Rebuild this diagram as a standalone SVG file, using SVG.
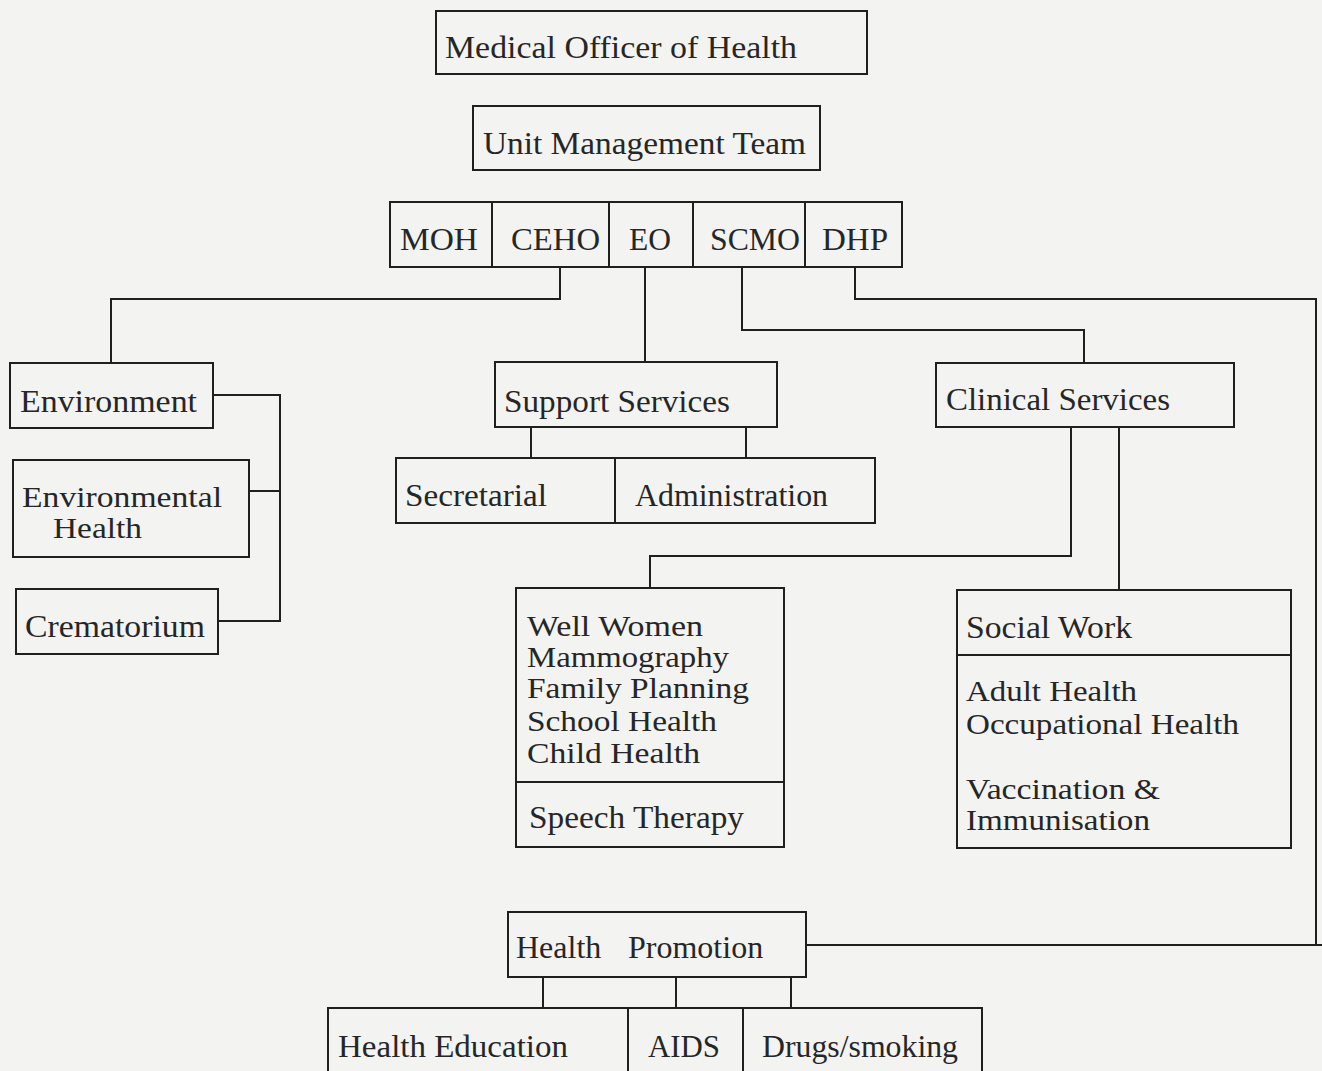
<svg xmlns="http://www.w3.org/2000/svg" width="1322" height="1071" viewBox="0 0 1322 1071">
<style>
.bg{fill:#f3f3f1}
.box{fill:none;stroke:#1f1f1f;stroke-width:2}
.ln{fill:none;stroke:#1f1f1f;stroke-width:2}
.t{font-family:"Liberation Serif","Times New Roman",serif;font-size:32px;fill:#262626}
.s{font-size:29px}
</style>
<rect class="bg" x="0" y="0" width="1322" height="1071"/>
<g id="connectors">
<path class="ln" d="M560,267 V299 H111 V363"/>
<path class="ln" d="M645,267 V362"/>
<path class="ln" d="M742,267 V330 H1084 V363"/>
<path class="ln" d="M855,267 V299 H1316 V945"/>
<path class="ln" d="M806,945 H1322"/>
<path class="ln" d="M213,395 H280 V621 H218"/>
<path class="ln" d="M249,491 H280"/>
<path class="ln" d="M531,427 V458"/>
<path class="ln" d="M746,427 V458"/>
<path class="ln" d="M1071,427 V556 H650 V588"/>
<path class="ln" d="M1119,427 V590"/>
<path class="ln" d="M543,977 V1008"/>
<path class="ln" d="M676,977 V1008"/>
<path class="ln" d="M791,977 V1008"/>
</g>
<g id="medical-officer">
<rect class="box" x="436" y="11" width="431" height="63"/>
<text class="t" x="445" y="58" textLength="352" lengthAdjust="spacingAndGlyphs">Medical Officer of Health</text>
</g>
<g id="unit-management-team">
<rect class="box" x="473" y="106" width="347" height="64"/>
<text class="t" x="483" y="154" textLength="323" lengthAdjust="spacingAndGlyphs">Unit Management Team</text>
</g>
<g id="moh">
<rect class="box" x="390" y="202" width="102" height="65"/>
<text class="t" x="400" y="250" textLength="78" lengthAdjust="spacingAndGlyphs">MOH</text>
</g>
<g id="ceho">
<rect class="box" x="492" y="202" width="117" height="65"/>
<text class="t" x="511" y="250" textLength="89" lengthAdjust="spacingAndGlyphs">CEHO</text>
</g>
<g id="eo">
<rect class="box" x="609" y="202" width="84" height="65"/>
<text class="t" x="629" y="250" textLength="42" lengthAdjust="spacingAndGlyphs">EO</text>
</g>
<g id="scmo">
<rect class="box" x="693" y="202" width="112" height="65"/>
<text class="t" x="710" y="250" textLength="90" lengthAdjust="spacingAndGlyphs">SCMO</text>
</g>
<g id="dhp">
<rect class="box" x="805" y="202" width="97" height="65"/>
<text class="t" x="822" y="250" textLength="66" lengthAdjust="spacingAndGlyphs">DHP</text>
</g>
<g id="environment">
<rect class="box" x="10" y="363" width="203" height="65"/>
<text class="t" x="20" y="412" textLength="177" lengthAdjust="spacingAndGlyphs">Environment</text>
</g>
<g id="environmental-health">
<rect class="box" x="13" y="460" width="236" height="97"/>
<text class="t s" x="22" y="507" textLength="200" lengthAdjust="spacingAndGlyphs">Environmental</text>
<text class="t s" x="53" y="538" textLength="89" lengthAdjust="spacingAndGlyphs">Health</text>
</g>
<g id="crematorium">
<rect class="box" x="16" y="589" width="202" height="65"/>
<text class="t" x="25" y="637" textLength="180" lengthAdjust="spacingAndGlyphs">Crematorium</text>
</g>
<g id="support-services">
<rect class="box" x="495" y="362" width="282" height="65"/>
<text class="t" x="504" y="412" textLength="226" lengthAdjust="spacingAndGlyphs">Support Services</text>
</g>
<g id="secretarial">
<rect class="box" x="396" y="458" width="219" height="65"/>
<text class="t" x="405" y="506" textLength="142" lengthAdjust="spacingAndGlyphs">Secretarial</text>
</g>
<g id="administration">
<rect class="box" x="615" y="458" width="260" height="65"/>
<text class="t" x="635" y="506" textLength="193" lengthAdjust="spacingAndGlyphs">Administration</text>
</g>
<g id="clinical-services">
<rect class="box" x="936" y="363" width="298" height="64"/>
<text class="t" x="946" y="410" textLength="224" lengthAdjust="spacingAndGlyphs">Clinical Services</text>
</g>
<g id="well-women">
<rect class="box" x="516" y="588" width="268" height="259"/>
<line class="ln" x1="516" y1="782" x2="784" y2="782"/>
<text class="t s" x="527" y="636" textLength="176" lengthAdjust="spacingAndGlyphs">Well Women</text>
<text class="t s" x="527" y="667" textLength="202" lengthAdjust="spacingAndGlyphs">Mammography</text>
<text class="t s" x="527" y="698" textLength="222" lengthAdjust="spacingAndGlyphs">Family Planning</text>
<text class="t s" x="527" y="731" textLength="190" lengthAdjust="spacingAndGlyphs">School Health</text>
<text class="t s" x="527" y="763" textLength="173" lengthAdjust="spacingAndGlyphs">Child Health</text>
<text class="t" x="529" y="828" textLength="215" lengthAdjust="spacingAndGlyphs">Speech Therapy</text>
</g>
<g id="social-work">
<rect class="box" x="957" y="590" width="334" height="258"/>
<line class="ln" x1="957" y1="655" x2="1291" y2="655"/>
<text class="t" x="966" y="638" textLength="166" lengthAdjust="spacingAndGlyphs">Social Work</text>
<text class="t s" x="966" y="701" textLength="171" lengthAdjust="spacingAndGlyphs">Adult Health</text>
<text class="t s" x="966" y="734" textLength="273" lengthAdjust="spacingAndGlyphs">Occupational Health</text>
<text class="t s" x="966" y="799" textLength="194" lengthAdjust="spacingAndGlyphs">Vaccination &amp;</text>
<text class="t s" x="966" y="830" textLength="184" lengthAdjust="spacingAndGlyphs">Immunisation</text>
</g>
<g id="health-promotion">
<rect class="box" x="508" y="912" width="298" height="65"/>
<text class="t" x="516" y="958">Health <tspan x="628">Promotion</tspan></text>
</g>
<g id="health-education">
<rect class="box" x="328" y="1008" width="300" height="90"/>
<text class="t" x="338" y="1057" textLength="230" lengthAdjust="spacingAndGlyphs">Health Education</text>
</g>
<g id="aids">
<rect class="box" x="628" y="1008" width="115" height="90"/>
<text class="t" x="648" y="1057" textLength="72" lengthAdjust="spacingAndGlyphs">AIDS</text>
</g>
<g id="drugs-smoking">
<rect class="box" x="743" y="1008" width="239" height="90"/>
<text class="t" x="762" y="1057" textLength="196" lengthAdjust="spacingAndGlyphs">Drugs/smoking</text>
</g>
</svg>
